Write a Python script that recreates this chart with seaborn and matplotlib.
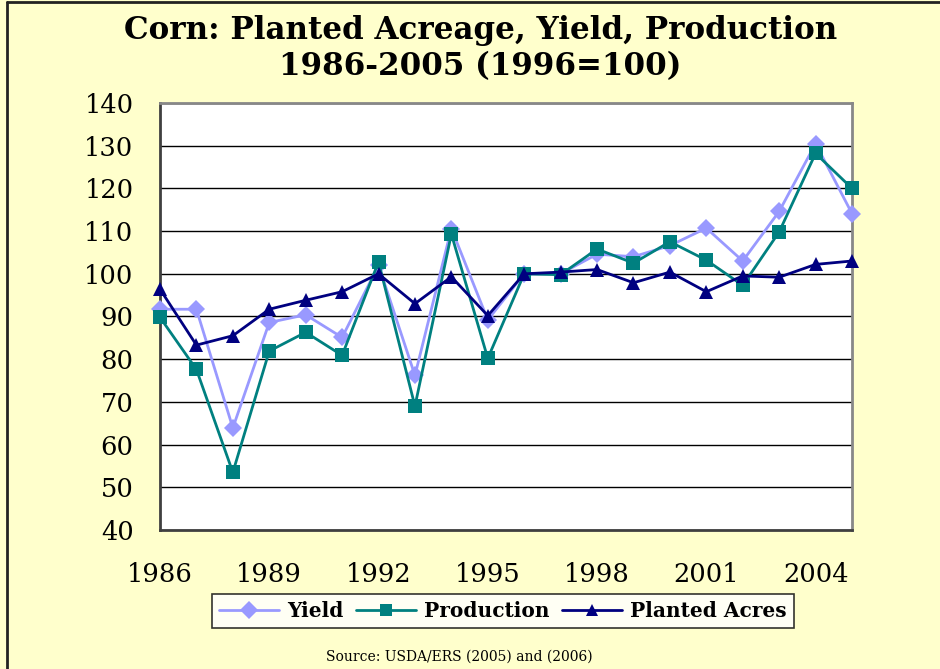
import numpy as np
import pandas as pd
import matplotlib.pyplot as plt
from matplotlib.lines import Line2D
import seaborn as sns

# values (1996 = 100)
years = list(range(1986, 2006))
yield_idx = [91.7, 91.7, 63.9, 88.6, 90.4, 85.1, 102.0, 76.2, 110.6, 89.2,
             100.0, 100.0, 104.6, 104.0, 106.6, 110.7, 103.0, 114.6, 130.5, 114.1]
production = [89.8, 77.6, 53.5, 81.9, 86.3, 80.9, 102.8, 69.0, 109.3, 80.2,
              100.0, 99.8, 105.8, 102.5, 107.5, 103.2, 97.3, 109.8, 128.2, 120.0]
planted = [96.4, 83.3, 85.5, 91.7, 93.8, 95.8, 100.0, 93.0, 99.3, 90.2,
           100.0, 100.4, 101.0, 97.9, 100.4, 95.8, 99.5, 99.2, 102.2, 103.0]
series_names = ['Yield', 'Production', 'Planted Acres']
colors = ['#9999FF', '#008080', '#000080']
markers = ['D', 's', '^']

df = pd.DataFrame({'Year': years * 3,
                   'Index': yield_idx + production + planted,
                   'Series': np.repeat(series_names, len(years))})

sns.set_style('white')
plt.rcParams['font.family'] = ['DejaVu Serif']
plt.rcParams['text.color'] = 'black'
plt.rcParams['xtick.color'] = 'black'
plt.rcParams['ytick.color'] = 'black'

bg = '#FFFFCC'
fig = plt.figure(figsize=(9.4, 6.69), dpi=100, facecolor=bg)
ax = fig.add_axes([160 / 940, 1 - 530 / 669, 692 / 940, 427 / 669])
ax.set_facecolor('white')

sns.lineplot(data=df, x='Year', y='Index', hue='Series', style='Series',
             hue_order=series_names, style_order=series_names,
             palette=colors, markers=markers, dashes=False, linewidth=2,
             markersize=9.5, markeredgewidth=0, ax=ax, legend=False)
for ln in ax.lines:
    ln.set_clip_on(False)
    ln.set_zorder(3)

ax.set_xlim(1986, 2005)
ax.set_ylim(40, 140)
ax.set_yticks(range(40, 141, 10))
ax.set_xticks(years, minor=True)
ax.set_xticks(range(1986, 2006, 3))
ax.grid(axis='y', color='black', linewidth=1)
ax.set_axisbelow(True)
ax.set_xlabel('')
ax.set_ylabel('')
ax.tick_params(axis='both', which='both', direction='out', color='#333333',
               length=9, width=1.2, labelsize=18.5, pad=10)
ax.tick_params(axis='x', which='major', pad=14)
for s in ['left', 'bottom']:
    ax.spines[s].set_color('#404040')
    ax.spines[s].set_linewidth(2)
for s in ['top', 'right']:
    ax.spines[s].set_color('#888888')
    ax.spines[s].set_linewidth(2)

fig.text(0.511, 1 - 31 / 669, 'Corn: Planted Acreage, Yield, Production',
         ha='center', va='center', fontsize=22.3, fontweight='bold')
fig.text(0.511, 1 - 67 / 669, '1986-2005 (1996=100)',
         ha='center', va='center', fontsize=22.3, fontweight='bold')

handles = [Line2D([], [], color=c, marker=m, markersize=9, markeredgewidth=0,
                  linewidth=2) for c, m in zip(colors, markers)]
leg = fig.legend(handles, series_names, loc='center',
                 bbox_to_anchor=(503 / 940, 1 - 611 / 669), ncol=3,
                 frameon=True, fancybox=False, handlelength=3.0,
                 columnspacing=0.6, handletextpad=0.4, borderpad=0.35,
                 prop={'size': 14.5, 'weight': 'bold'})
leg.get_frame().set_edgecolor('black')
leg.get_frame().set_linewidth(1.2)
leg.get_frame().set_facecolor('white')

fig.text(459 / 940, 1 - 657 / 669, 'Source: USDA/ERS (2005) and (2006)',
         ha='center', va='center', fontsize=10)

# outer chart frame (top and left edges visible)
fig.add_artist(Line2D([7 / 940, 1], [1 - 2 / 669, 1 - 2 / 669],
                      transform=fig.transFigure, color='#222222', linewidth=2))
fig.add_artist(Line2D([7 / 940, 7 / 940], [0, 1 - 2 / 669],
                      transform=fig.transFigure, color='#222222', linewidth=2))

fig.savefig('out.png', dpi=100, facecolor=bg)
